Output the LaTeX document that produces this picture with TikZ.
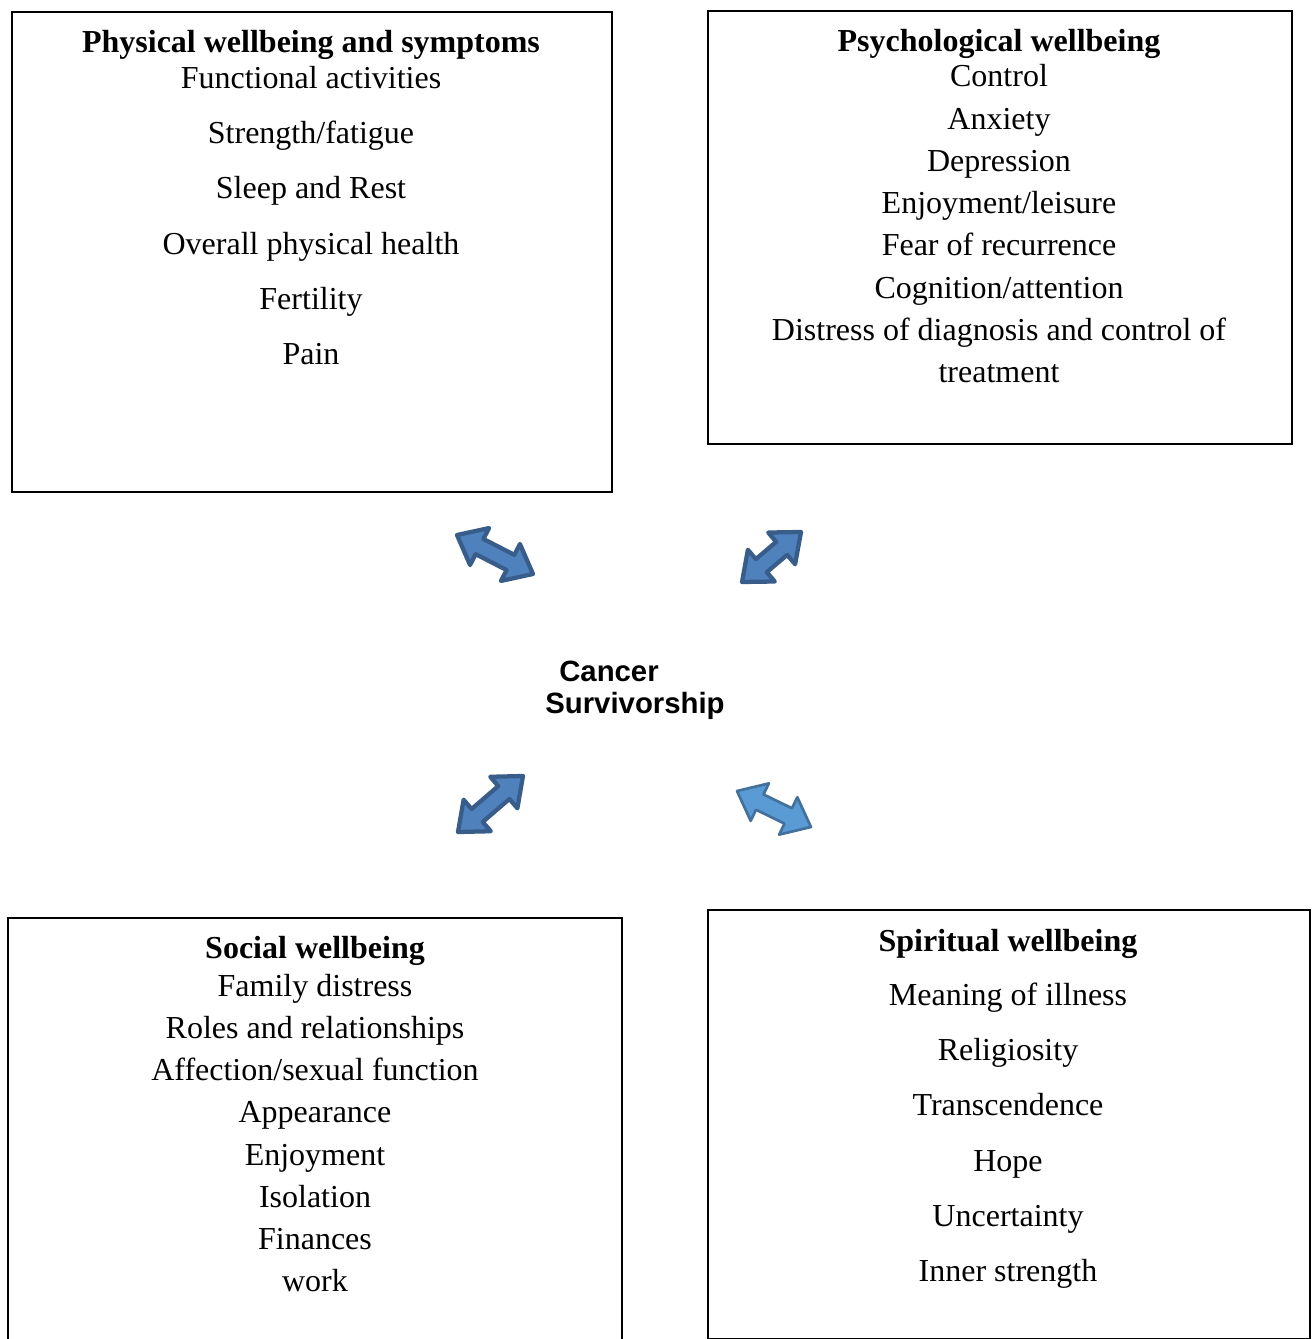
\documentclass[tikz,border=0pt]{standalone}
\usepackage{fontspec}
\setmainfont{Liberation Serif}
\newfontfamily\arialfont{Liberation Sans}
\usetikzlibrary{calc}
\definecolor{arrfill}{HTML}{4F81BD}
\definecolor{arrline}{HTML}{385D8A}
\definecolor{arrfillb}{HTML}{5B9BD5}
\definecolor{arrlineb}{HTML}{41719C}
\tikzset{
  box/.style={draw=black, line width=0.75pt},
  itemtxt/.style={anchor=base, inner sep=0pt, font=\fontsize{12}{14}\selectfont},
  headtxt/.style={anchor=base, inner sep=0pt, font=\fontsize{12}{14}\selectfont\bfseries},
  centertxt/.style={anchor=base, inner sep=0pt, font=\arialfont\fontsize{11}{13}\selectfont\bfseries},
  blockarr/.style={fill=arrfill, draw=arrline, line width=1.6pt, line join=round},
  blockarrb/.style={fill=arrfillb, draw=arrlineb, line width=1pt, line join=round},
}
% #1 style, #2 tip A name, #3 tip B name
\newcommand\dblblock[3]{%
  \coordinate (ah) at ($(#2)!9.5pt!(#3)$);
  \coordinate (bh) at ($(#3)!9.5pt!(#2)$);
  \draw[#1] (#2)
    -- ($(ah)!7.8pt!90:(#3)$) -- ($(ah)!3.2pt!90:(#3)$)
    -- ($(bh)!3.2pt!-90:(#2)$) -- ($(bh)!7.8pt!-90:(#2)$)
    -- (#3)
    -- ($(bh)!7.8pt!90:(#2)$) -- ($(bh)!3.2pt!90:(#2)$)
    -- ($(ah)!3.2pt!-90:(#3)$) -- ($(ah)!7.8pt!-90:(#3)$)
    -- cycle;}
\begin{document}
\begin{tikzpicture}[x=0.375pt, y=-0.375pt]
\useasboundingbox (0,0) rectangle (1313,1339);
\fill[white] (0,0) rectangle (1313,1339);
% boxes
\node[box, minimum width=225pt, minimum height=180pt, inner sep=0pt, anchor=north west] (phys) at (11,11) {};
\node[box, minimum width=219pt, minimum height=162.4pt, inner sep=0pt, anchor=north west] (psych) at (707,10) {};
\node[box, minimum width=225.75pt, minimum height=160.9pt, inner sep=0pt, anchor=north west] (spir) at (707,909) {};
\coordinate (socA) at (8,1345);
\coordinate (socB) at (8,918);
\coordinate (socC) at (622,918);
\coordinate (socD) at (622,1345);
\draw[box] (socA) -- (socB) -- (socC) -- (socD);
% physical
\node[headtxt] (ph0) at (311,52) {Physical wellbeing and symptoms};
\node[itemtxt] (ph1) at (311,88) {Functional activities};
\node[itemtxt] (ph2) at (311,143) {Strength/fatigue};
\node[itemtxt] (ph3) at (311,198) {Sleep and Rest};
\node[itemtxt] (ph4) at (311,254) {Overall physical health};
\node[itemtxt] (ph5) at (311,309) {Fertility};
\node[itemtxt] (ph6) at (311,364) {Pain};
% psychological
\node[headtxt] (ps0) at (999,51) {Psychological wellbeing};
\node[itemtxt] (ps1) at (999,86) {Control};
\node[itemtxt] (ps2) at (999,129) {Anxiety};
\node[itemtxt] (ps3) at (999,171) {Depression};
\node[itemtxt] (ps4) at (999,213) {Enjoyment/leisure};
\node[itemtxt] (ps5) at (999,255) {Fear of recurrence};
\node[itemtxt] (ps6) at (999,298) {Cognition/attention};
\node[itemtxt] (ps7) at (999,340) {Distress of diagnosis and control of};
\node[itemtxt] (ps8) at (999,382) {treatment};
% social
\node[headtxt] (so0) at (315,958) {Social wellbeing};
\node[itemtxt] (so1) at (315,996) {Family distress};
\node[itemtxt] (so2) at (315,1038) {Roles and relationships};
\node[itemtxt] (so3) at (315,1080) {Affection/sexual function};
\node[itemtxt] (so4) at (315,1122) {Appearance};
\node[itemtxt] (so5) at (315,1165) {Enjoyment};
\node[itemtxt] (so6) at (315,1207) {Isolation};
\node[itemtxt] (so7) at (315,1249) {Finances};
\node[itemtxt] (so8) at (315,1291) {work};
% spiritual
\node[headtxt] (sp0) at (1008,951) {Spiritual wellbeing};
\node[itemtxt] (sp1) at (1008,1005) {Meaning of illness};
\node[itemtxt] (sp2) at (1008,1060) {Religiosity};
\node[itemtxt] (sp3) at (1008,1115) {Transcendence};
\node[itemtxt] (sp4) at (1008,1171) {Hope};
\node[itemtxt] (sp5) at (1008,1226) {Uncertainty};
\node[itemtxt] (sp6) at (1008,1281) {Inner strength};
% center
\node[centertxt] (cancer) at (609,681) {Cancer};
\node[centertxt] (surv) at (635,713) {Survivorship};
% arrows
\coordinate (a1s) at (457,535);
\coordinate (a1e) at (533,574);
\coordinate (a2s) at (742,582);
\coordinate (a2e) at (801,532);
\coordinate (a3s) at (458,832);
\coordinate (a3e) at (523,776);
\coordinate (a4s) at (737,791);
\coordinate (a4e) at (811,827);
\dblblock{blockarr}{a1s}{a1e}
\dblblock{blockarr}{a2s}{a2e}
\dblblock{blockarr}{a3s}{a3e}
\dblblock{blockarrb}{a4s}{a4e}
\end{tikzpicture}
\end{document}
